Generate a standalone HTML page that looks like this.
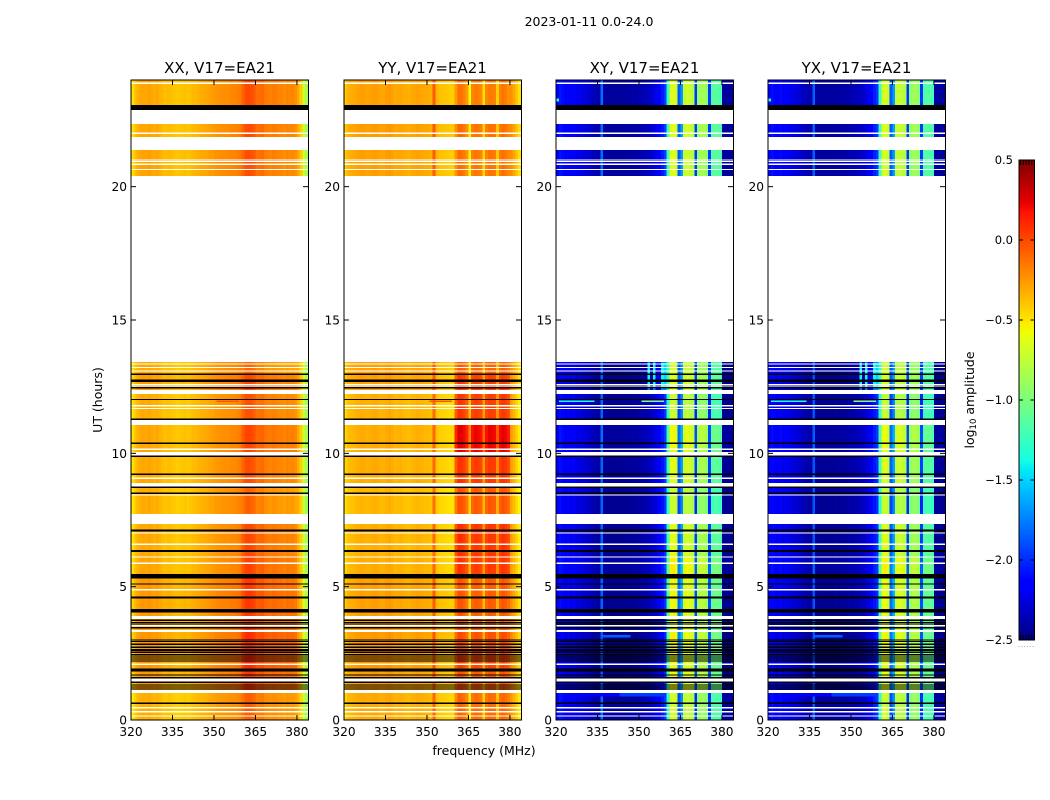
<!DOCTYPE html>
<html>
<head>
<meta charset="utf-8">
<title>2023-01-11 0.0-24.0</title>
<style>
html,body{margin:0;padding:0;background:#fff;width:1050px;height:800px;overflow:hidden}
svg{display:block}
text{font-family:"DejaVu Sans","Liberation Sans",sans-serif;fill:#000}
</style>
</head>
<body>
<svg id="figure" width="1050" height="800" viewBox="0 0 1050 800" xmlns="http://www.w3.org/2000/svg">
  <text x="589" y="26" font-size="12.5" text-anchor="middle">2023-01-11 0.0-24.0</text>
  <text x="484" y="755" font-size="12.5" text-anchor="middle">frequency (MHz)</text>
  <text transform="translate(102,400) rotate(-90)" font-size="12.5" text-anchor="middle">UT (hours)</text>
  <text transform="translate(974,400) rotate(-90)" font-size="12.5" text-anchor="middle">log<tspan font-size="8.5" dy="2">10</tspan><tspan dy="-2"> amplitude</tspan></text>
</svg>
<script>
// ---- chart data ----
const panelTitles = ['XX, V17=EA21', 'YY, V17=EA21', 'XY, V17=EA21', 'YX, V17=EA21'];
const frequencyTicks = [320, 335, 350, 365, 380];
const hourTicks = [0, 5, 10, 15, 20];
const colorbarTicks = [0.5, 0.0, -0.5, -1.0, -1.5, -2.0, -2.5];
const channelsMHz = [320,321,322,323,324,325,326,327,328,329,330,331,332,333,334,335,336,337,338,339,340,341,342,343,344,345,346,347,348,349,350,351,352,353,354,355,356,357,358,359,360,361,362,363,364,365,366,367,368,369,370,371,372,373,374,375,376,377,378,379,380,381,382,383];

// log10 amplitude per channel, one array per polarisation
const spectrumXX = [-.48,-.40,-.33,-.30,-.29,-.31,-.28,-.30,-.32,-.30, -.33,-.36,-.38,-.36,-.37,-.39,-.41,-.40,-.39,-.38, -.40,-.38,-.36,-.35,-.33,-.32,-.31,-.30,-.28,-.27, -.25,-.24,-.23,-.22,-.22,-.21,-.20,-.20,-.18,-.16, -.08,-.01,.0,-.01,-.04,-.12,-.11,-.10,-.15,-.17, -.18,-.16,-.17,-.19,-.19,-.21,-.18,-.20,-.19,-.22, -.30,-.42,-.70,-.85];
const spectrumYY = [-.42,-.36,-.34,-.33,-.31,-.30,-.29,-.30,-.31,-.30, -.29,-.28,-.30,-.32,-.31,-.29,-.27,-.30,-.33,-.32, -.31,-.33,-.34,-.35,-.33,-.32,-.30,-.31,-.32,-.33, -.33,-.35,-.08,-.36,-.40,-.41,-.42,-.43,-.44,-.44, .02,.16,.14,.10,.02,-.30,.08,.12,.11,.08, -.20,.08,.13,.12,.10,-.15,.10,.14,.11,.06, -.24,-.32,-.42,-.50];
const spectrumXY = [-2.2,-2.12,-2.16,-2.25,-2.18,-2.25,-2.2,-2.28,-2.26,-2.3, -2.3,-2.34,-2.35,-2.4,-2.4,-2.45,-1.85,-2.47,-2.46,-2.48, -2.47,-2.48,-2.47,-2.48,-2.46,-2.47,-2.46,-2.45,-2.46,-2.44, -2.42,-2.42,-2.4,-2.38,-2.35,-2.3,-2.25,-2.18,-2.1,-2.0, -1.3,-.67,-.66,-.75,-1.9, -1.7,-.76,-.72,-.76,-.82, -2.0,-.95,-.88,-.88,-.98, -2.0,-1.2,-1.15,-1.15,-1.22, -2.46,-2.47,-2.47,-2.47];
const spectrumYX = [-2.18,-2.14,-2.19,-2.23,-2.16,-2.26,-2.22,-2.26,-2.28,-2.28, -2.32,-2.33,-2.37,-2.38,-2.42,-2.45,-1.9,-2.46,-2.47,-2.47, -2.48,-2.47,-2.46,-2.48,-2.45,-2.46,-2.46,-2.44,-2.45,-2.42, -2.43,-2.4,-2.41,-2.36,-2.36,-2.31,-2.24,-2.2,-2.09,-2.02, -1.3,-.7,-.68,-.78,-1.9, -1.7,-.8,-.74,-.8,-.84, -2.0,-.98,-.9,-.9,-1.0, -2.0,-1.22,-1.17,-1.17,-1.25, -2.46,-2.47,-2.47,-2.47];

// observed time segments (UT hours)
const segmentStart = [23.06,21.86,20.4,12.975,12.375,11.25,10.05,8.89,7.725,6.11,5.475,3.9,3.375,2.625,1.95,1.125,0];
const segmentEnd   = [24,22.35,21.375,13.425,12.975,12.225,11.06,9.86,8.74,7.35,6.11,5.475,3.79,3.3,2.625,1.95,1.01];
// whole-spectrum offset per segment
const baseOffsetXX = [0,0,.01,-.01,.03,-.02,.0,-.01,-.02,-.01,0,.04,.03,.05,.05,.04,-.03];
const baseOffsetYY = [.02,.03,.02,.02,.02,-.03,-.02,-.02,-.05,-.03,-.02,.02,.02,.04,.05,.03,-.01];
const baseOffsetXY = [.05,.05,.05,0,0,.02,.05,.03,.02,.02,.05,.02,0,-.02,-.02,-.02,.05];
const baseOffsetYX = [.05,.05,.05,0,0,.02,.05,.03,.02,.02,.05,.02,0,-.02,-.02,-.02,.05];
// extra offset inside the 360-380 MHz band per segment
const bandLiftXX = [0,0,-.02,-.08,-.02,.0,.02,0,-.05,.02,.03,.02,.02,.05,.06,.03,-.03];
const bandLiftYY = [-.3,-.28,-.28,-.22,-.1,-.05,.12,-.05,-.12,-.03,-.05,-.2,-.2,-.18,-.15,-.2,-.22];
const bandLiftXY = [-.02,0,-.02,.02,.05,-.05,.05,.02,-.05,.03,.1,.08,.1,.15,.12,.12,-.05];
const bandLiftYX = [-.02,0,-.02,.02,.05,-.05,.05,.02,-.05,.03,.1,.08,.1,.15,.12,.12,-.05];

// flagged rows: centre hour and thickness in hours
const blackRowHours = [22.97,12.96,12.72,12.46,12.02,11.28,10.38,9.89,9.21,8.73,8.50,7.11,6.34,5.39,5.10,4.59,4.10,3.74,3.66,3.60,3.46,3.00,2.94,2.84,2.73,2.63,2.54,2.45,2.36,2.29,2.21,1.88,1.69,1.58,1.41,1.31,1.24,1.16,.63];
const blackRowThickness = [.185,.05,.08,.05,.05,.05,.05,.05,.05,.05,.05,.08,.08,.175,.05,.08,.125,.04,.04,.04,.05,.04,.04,.05,.05,.08,.05,.05,.05,.05,.05,.12,.05,.05,.05,.05,.04,.04,.05];
const whiteRowHours = [23.88,22.0,21.0,20.94,20.84,20.65,13.35,13.22,13.09,12.58,12.53,11.79,11.68,10.15,9.06,8.44,7.01,6.59,6.11,5.88,4.88,3.54,2.09,1.5,.46,.31,.15];
const whiteRowThickness = [.05,.05,.04,.04,.04,.04,.05,.05,.05,.04,.04,.05,.05,.05,.05,.05,.05,.05,.05,.05,.05,.05,.05,.12,.05,.05,.05];

// localised interference: panel, hour low, hour high, MHz low, MHz high, log10 amplitude
const rfiPanel   = [2,2,3,3,1,0,2,2,2,2,3,3,3,3,2,3,2,3,2,3,2,3];
const rfiHourLow = [11.93,11.93,11.93,11.93,11.93,11.93,12.4,12.4,12.4,12.4,12.4,12.4,12.4,12.4,.88,.88,.88,.88,3.1,3.1,23.2,23.2];
const rfiHourHigh= [11.98,11.98,11.98,11.98,11.98,11.98,13.4,13.4,13.4,13.4,13.4,13.4,13.4,13.4,1.01,1.01,1.01,1.01,3.18,3.18,23.3,23.3];
const rfiMHzLow  = [321,351,321,351,351,351,353,355,358,359,353,355,358,359,328,328,343,343,336,336,320,320];
const rfiMHzHigh = [333,358,333,358,358,358,353,355,358,359,353,355,358,359,342,342,359,359,346,346,320,320];
const rfiValue   = [-1.35,-.95,-1.35,-.95,-.02,-.05,-1.4,-1.4,-1.4,-1.5,-1.4,-1.4,-1.4,-1.5,-2.15,-2.15,-1.95,-1.95,-1.85,-1.85,-1.3,-1.3];

// ---- layout ----
const panelLefts = [131, 344, 556, 768];
const panelWidth = 177;
const plotTop = 80, plotBottom = 720;
const hourMin = 0, hourMax = 24, mhzMin = 320, mhzMax = 384;
const cbLeft = 1019, cbRight = 1034.5, cbTop = 160, cbBottom = 640, valueMin = -2.5, valueMax = 0.5;

const svg = document.getElementById('figure');
const NS = 'http://www.w3.org/2000/svg';

function xScale(left, mhz) { return left + (mhz - mhzMin) / (mhzMax - mhzMin) * panelWidth; }
function yScale(h) { return plotBottom - (h - hourMin) / (hourMax - hourMin) * (plotBottom - plotTop); }
function cbScale(v) { return cbBottom - (v - valueMin) / (valueMax - valueMin) * (cbBottom - cbTop); }

function ramp(t, pts) {
  for (let i = 1; i < pts.length; i++) {
    if (t <= pts[i][0]) {
      const a = pts[i - 1], b = pts[i];
      return a[1] + (b[1] - a[1]) * (t - a[0]) / (b[0] - a[0]);
    }
  }
  return pts[pts.length - 1][1];
}
function jet(v) {
  const t = Math.min(1, Math.max(0, (v - valueMin) / (valueMax - valueMin)));
  const r = ramp(t, [[0, 0], [.35, 0], [.66, 1], [.89, 1], [1, .5]]);
  const g = ramp(t, [[0, 0], [.125, 0], [.375, 1], [.64, 1], [.91, 0], [1, 0]]);
  const b = ramp(t, [[0, .5], [.11, 1], [.34, 1], [.65, 0], [1, 0]]);
  return 'rgb(' + Math.round(r * 255) + ',' + Math.round(g * 255) + ',' + Math.round(b * 255) + ')';
}
function addRect(parent, x, y, w, h, fill, crisp) {
  const r = document.createElementNS(NS, 'rect');
  r.setAttribute('x', x);
  r.setAttribute('y', y);
  r.setAttribute('width', w);
  r.setAttribute('height', h);
  r.setAttribute('fill', fill);
  if (crisp) r.setAttribute('shape-rendering', 'crispEdges');
  parent.appendChild(r);
  return r;
}
function addLine(parent, x1, y1, x2, y2) {
  const l = document.createElementNS(NS, 'line');
  l.setAttribute('x1', x1);
  l.setAttribute('y1', y1);
  l.setAttribute('x2', x2);
  l.setAttribute('y2', y2);
  l.setAttribute('stroke', '#000');
  l.setAttribute('stroke-width', '1');
  parent.appendChild(l);
  return l;
}
function addText(parent, x, y, str, size, anchor) {
  const t = document.createElementNS(NS, 'text');
  t.setAttribute('x', x);
  t.setAttribute('y', y);
  t.setAttribute('font-size', size);
  t.setAttribute('text-anchor', anchor);
  t.textContent = str;
  parent.appendChild(t);
  return t;
}

const spectra = [spectrumXX, spectrumYY, spectrumXY, spectrumYX];
const baseOffsets = [baseOffsetXX, baseOffsetYY, baseOffsetXY, baseOffsetYX];
const bandLifts = [bandLiftXX, bandLiftYY, bandLiftXY, bandLiftYX];

panelTitles.forEach(function (title, p) {
  const left = panelLefts[p];
  const g = document.createElementNS(NS, 'g');
  
  
  svg.appendChild(g);

  // heatmap cells
  segmentStart.forEach(function (start, s) {
    const yTop = yScale(segmentEnd[s]);
    const yBot = yScale(start);
    channelsMHz.forEach(function (mhz, c) {
      const lift = (mhz >= 360 && mhz < 380) ? bandLifts[p][s] : 0;
      const value = spectra[p][c] + baseOffsets[p][s] + lift;
      const x0 = xScale(left, mhz);
      const x1 = xScale(left, mhz + 1);
      const cell = addRect(g, x0, yTop, x1 - x0, yBot - yTop, jet(value), true);
      
      
    });
  });

  // localised interference
  rfiPanel.forEach(function (pp, i) {
    if (pp !== p) return;
    const x0 = xScale(left, rfiMHzLow[i]);
    const x1 = xScale(left, rfiMHzHigh[i] + 1);
    const y0 = yScale(rfiHourHigh[i]);
    const y1 = yScale(rfiHourLow[i]);
    const patch = addRect(g, x0, y0, x1 - x0, y1 - y0, jet(rfiValue[i]), true);
    
    
  });

  // flagged rows
  whiteRowHours.forEach(function (h, i) {
    const y0 = yScale(h + whiteRowThickness[i] / 2);
    const y1 = yScale(h - whiteRowThickness[i] / 2);
    const row = addRect(g, left, y0, panelWidth, Math.max(1, y1 - y0), '#fff', true);
    
    
  });
  blackRowHours.forEach(function (h, i) {
    const y0 = yScale(h + blackRowThickness[i] / 2);
    const y1 = yScale(h - blackRowThickness[i] / 2);
    const row = addRect(g, left, y0, panelWidth, Math.max(1, y1 - y0), '#000', true);
    
    
  });

  // frame
  const frame = document.createElementNS(NS, 'rect');
  frame.setAttribute('x', left);
  frame.setAttribute('y', plotTop);
  frame.setAttribute('width', panelWidth + 0.5);
  frame.setAttribute('height', plotBottom - plotTop);
  frame.setAttribute('fill', 'none');
  frame.setAttribute('stroke', '#000');
  frame.setAttribute('stroke-width', '1');
  
  
  g.appendChild(frame);

  // title
  const tt = addText(g, left + panelWidth / 2, 73, title, 15, 'middle');
  
  

  // x ticks
  frequencyTicks.forEach(function (f) {
    const x = xScale(left, f);
    const t1 = addLine(g, x, plotBottom, x, plotBottom - 5);
    
    
    const t2 = addLine(g, x, plotTop, x, plotTop + 5);
    
    
    const lb = addText(g, x, 736, String(f), 12.2, 'middle');
    
    
  });

  // y ticks
  hourTicks.forEach(function (h) {
    const y = yScale(h);
    const t1 = addLine(g, left, y, left + 5, y);
    
    
    const t2 = addLine(g, left + panelWidth, y, left + panelWidth - 5, y);
    
    
    const lb = addText(g, left - 4, y + 4.5, String(h), 12.2, 'end');
    
    
  });
});

// colour bar
const cb = document.createElementNS(NS, 'g');


svg.appendChild(cb);
for (let i = 0; i < 256; i++) {
  const v0 = valueMin + (valueMax - valueMin) * i / 256;
  const v1 = valueMin + (valueMax - valueMin) * (i + 1) / 256;
  const seg = addRect(cb, cbLeft, cbScale(v1), cbRight - cbLeft, cbScale(v0) - cbScale(v1), jet((v0 + v1) / 2), true);
  
  
}
const cbFrame = document.createElementNS(NS, 'rect');
cbFrame.setAttribute('x', cbLeft);
cbFrame.setAttribute('y', cbTop);
cbFrame.setAttribute('width', cbRight - cbLeft);
cbFrame.setAttribute('height', cbBottom - cbTop);
cbFrame.setAttribute('fill', 'none');
cbFrame.setAttribute('stroke', '#000');
cbFrame.setAttribute('stroke-width', '1');


cb.appendChild(cbFrame);

colorbarTicks.forEach(function (v) {
  const y = cbScale(v);
  const t1 = addLine(cb, cbLeft, y, cbLeft + 4, y);
  
  
  const t2 = addLine(cb, cbRight, y, cbRight - 4, y);
  
  
  const lb = addText(cb, 1013, y + 4, v.toFixed(1).replace('-', '\u2212'), 11.5, 'end');
  
  
});
for (let i = 0; i < 6; i++) {
  const x = cbLeft + 1.5 + i * 2.8;
  const top = addLine(cb, x, cbTop, x, cbTop + 5);
  
  
  const bot = addLine(cb, x, cbBottom, x, cbBottom - 5);
  
  
  const dot = addRect(cb, x - 2, 646, 1, 1, '#aaa', true);
  
  
}
</script>
</body>
</html>
